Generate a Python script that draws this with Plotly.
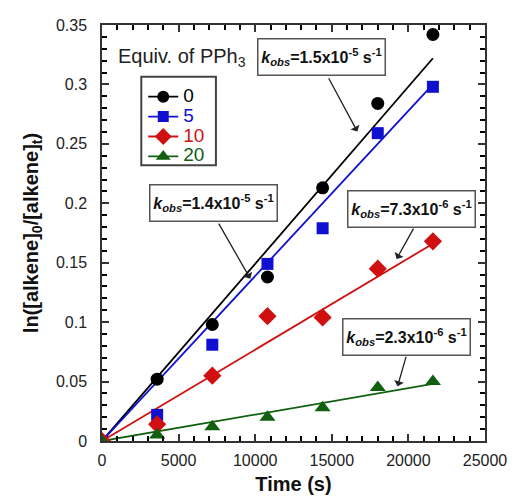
import plotly.graph_objects as go

time_s = [0, 3600, 7200, 10800, 14400, 18000, 21600]
series_names = ["0", "5", "10", "20"]
y_0 = [0, 0.052, 0.098, 0.138, 0.213, 0.284, 0.342]
y_5 = [0, 0.022, 0.081, 0.149, 0.179, 0.259, 0.298]
y_10 = [0, 0.014, 0.055, 0.105, 0.104, 0.145, 0.168]
y_20 = [0, 0.005, 0.012, 0.020, 0.028, 0.045, 0.050]
fit_x = [0, 21600]
fit_0 = [0, 0.322]
fit_5 = [0, 0.300]
fit_10 = [0, 0.166]
fit_20 = [0, 0.048]
k_labels = ["1.5x10", "1.4x10", "7.3x10", "2.3x10"]
k_exps = ["-5", "-5", "-6", "-6"]

colors = ["#000000", "#1010d0", "#d01010", "#106010"]
symbols = ["circle", "square", "diamond", "triangle-up"]
sizes = [13, 12, 14, 14]
ys = [y_0, y_5, y_10, y_20]
fits = [fit_0, fit_5, fit_10, fit_20]

fig = go.Figure()
for i in range(4):
    fig.add_trace(go.Scatter(x=fit_x, y=fits[i], mode="lines",
                             line=dict(color=colors[i], width=1.8),
                             showlegend=False, hoverinfo="skip"))
for i in range(4):
    fig.add_trace(go.Scatter(x=time_s, y=ys[i], mode="markers",
                             marker=dict(color=colors[i], symbol=symbols[i], size=sizes[i]),
                             showlegend=False))
for i in range(4):
    fig.add_trace(go.Scatter(x=[None], y=[None], mode="lines+markers",
                             name=f"<span style='color:{colors[i]};font-size:19px'>{series_names[i]}</span>",
                             line=dict(color=colors[i], width=1.8),
                             marker=dict(color=colors[i], symbol=symbols[i], size=sizes[i] - 1)))

def ktext(i):
    return ("<b><i>k</i></b><sub><b><i>obs</i></b></sub><b>=" + k_labels[i] +
            "</b><sup><b>" + k_exps[i] + "</b></sup><b> s</b><sup><b>-1</b></sup>")

box_pos = [(14295, 0.3228), (7308, 0.2005), (20224, 0.1951), (19872, 0.0875)]
arrows = [((14744, 0.3065), (16667, 0.2604)),
          ((7564, 0.1842), (9679, 0.1365)),
          ((20385, 0.1800), (19231, 0.1532)),
          ((19872, 0.0720), (19295, 0.0461))]

annotations = []
for i in range(4):
    (sx, sy), (ex, ey) = arrows[i]
    annotations.append(dict(x=ex, y=ey, ax=sx, ay=sy, xref="x", yref="y",
                            axref="x", ayref="y", text="", showarrow=True,
                            arrowhead=1, arrowsize=1.3, arrowwidth=1.3, arrowcolor="#222"))
for i in range(4):
    bx, by = box_pos[i]
    annotations.append(dict(x=bx, y=by, xref="x", yref="y", text=ktext(i), showarrow=False,
                            font=dict(size=16, color="#111", family="Liberation Sans"),
                            bgcolor="white", bordercolor="#555", borderwidth=1.5,
                            borderpad=2, width=122, height=31, align="center"))
annotations.append(dict(x=(116 - 102) / 390, y=(443 - 58) / 418, xref="paper", yref="paper",
                        xanchor="left", yanchor="middle", showarrow=False,
                        text="Equiv. of PPh<sub>3</sub>",
                        font=dict(size=20, color="#222", family="Liberation Sans")))

# legend frame
shapes = [dict(type="rect", xref="paper", yref="paper",
               x0=(142 - 102) / 390, x1=(218 - 102) / 390,
               y0=(443 - 166) / 418, y1=(443 - 77) / 418,
               line=dict(color="#444", width=2), fillcolor="white", layer="above")]

axis_common = dict(showline=True, linecolor="#333", linewidth=1.5, mirror="allticks",
                   ticks="inside", ticklen=7, tickcolor="#333", tickwidth=1.5,
                   showgrid=False, zeroline=False,
                   tickfont=dict(size=16, color="#222", family="Liberation Sans"))

fig.update_layout(
    width=519, height=504,
    margin=dict(l=102, r=27, t=25, b=61),
    paper_bgcolor="white", plot_bgcolor="white",
    font=dict(family="Liberation Sans", color="#222"),
    annotations=annotations,
    shapes=shapes,
    legend=dict(x=(144 - 102) / 390, y=(443 - 82) / 418, xanchor="left", yanchor="top",
                borderwidth=0, bgcolor="rgba(0,0,0,0)",
                font=dict(size=13, family="Liberation Sans"), tracegroupgap=0,
                itemwidth=30),
    xaxis=dict(range=[0, 25000], tickmode="linear", tick0=0, dtick=5000, tickformat="d",
               minor=dict(tickmode="linear", tick0=0, dtick=1000, ticks="inside",
                          ticklen=5, tickcolor="#000", tickwidth=1.5),
               title=dict(text="<b>Time (s)</b>", font=dict(size=20, color="#111"), standoff=9),
               ticklabelstandoff=4,
               **axis_common),
    yaxis=dict(range=[0, 0.35], tickmode="linear", tick0=0, dtick=0.05,
               minor=dict(tickmode="linear", tick0=0, dtick=0.01, ticks="inside",
                          ticklen=5, tickcolor="#000", tickwidth=1.5),
               title=dict(text="<b>ln([alkene]<sub>0</sub>/[alkene]<sub>t</sub>)</b>",
                          font=dict(size=20, color="#111"), standoff=12),
               ticklabelstandoff=10,
               **axis_common),
)

fig.write_html("out.html")
